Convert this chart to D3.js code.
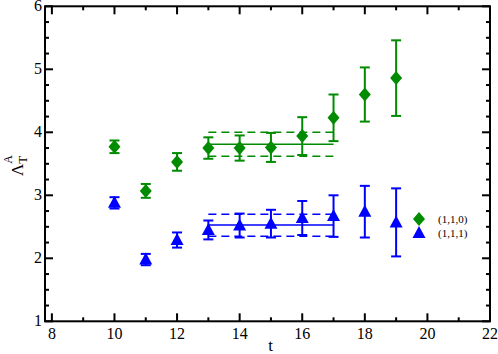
<!DOCTYPE html>
<html>
<head>
<meta charset="utf-8">
<script src="https://cdn.jsdelivr.net/npm/d3@7"></script>
<style>
  body { margin: 0; background: #fff; }
</style>
</head>
<body>
<svg id="chart"></svg>
<script>
// data
const tValues = [10, 11, 12, 13, 14, 15, 16, 17, 18, 19];
const green110 = [3.77, 3.07, 3.53, 3.75, 3.75, 3.76, 3.94, 4.23, 4.60, 4.86];
const green110Err = [0.10, 0.11, 0.14, 0.17, 0.20, 0.23, 0.30, 0.37, 0.43, 0.60];
const blue111 = [2.88, 1.98, 2.29, 2.45, 2.52, 2.55, 2.64, 2.67, 2.74, 2.57];
const blue111Err = [0.09, 0.09, 0.12, 0.15, 0.19, 0.22, 0.27, 0.33, 0.41, 0.54];
const fitRange = [13, 17];
const fitGreen = [3.81, 3.62, 4.00]; // value, low, high
const fitBlue = [2.53, 2.35, 2.70];
const xTicks = [8, 10, 12, 14, 16, 18, 20, 22];
const yTicks = [1, 2, 3, 4, 5, 6];
const legendLabels = ["(1,1,0)", "(1,1,1)"];

const GREEN = "#008b00", BLUE = "#0000ff";
const FONT = "'Liberation Serif', 'Times New Roman', 'DejaVu Serif', serif";
const W = 498, H = 354;
const margin = {top: 6.3, right: 8, bottom: 32.7, left: 45};

const svg = d3.select("#chart").attr("width", W).attr("height", H)
  .attr("font-family", FONT);

const x = d3.scaleLinear().domain([7.78, 22]).range([margin.left, W - margin.right]);
const y = d3.scaleLinear().domain([1, 6]).range([H - margin.bottom, margin.top]);

const g = svg.append("g");

// ticks on all four sides, pointing inward
const xMinor = d3.range(8, 22.01, 1);
const yMinor = d3.range(1, 6.01, 0.25);
const x0 = x.range()[0], x1 = x.range()[1], y0 = y.range()[0], y1 = y.range()[1];

function tickLine(x1_, y1_, x2_, y2_) {
  g.append("line").attr("x1", x1_).attr("y1", y1_).attr("x2", x2_).attr("y2", y2_)
    .attr("stroke", "#000").attr("stroke-width", 2);
}
xMinor.forEach(v => {
  const len = xTicks.includes(v) ? 8 : 4;
  tickLine(x(v), y0, x(v), y0 - len);
  tickLine(x(v), y1, x(v), y1 + len);
});
yMinor.forEach(v => {
  const len = yTicks.includes(v) ? 8 : 4;
  tickLine(x0, y(v), x0 + len, y(v));
  tickLine(x1, y(v), x1 - len, y(v));
});

// frame
g.append("rect").attr("x", x0).attr("y", y1).attr("width", x1 - x0).attr("height", y0 - y1)
  .attr("fill", "none").attr("stroke", "#000").attr("stroke-width", 2);

// tick labels
g.selectAll(".xl").data(xTicks).join("text")
  .attr("x", d => x(d)).attr("y", y0 + 18)
  .attr("text-anchor", "middle").attr("font-size", 16).text(d => d);
g.selectAll(".yl").data(yTicks).join("text")
  .attr("x", x0 - 3).attr("y", d => y(d) + 5)
  .attr("text-anchor", "end").attr("font-size", 16).text(d => d);

// axis titles
g.append("text").attr("x", 270.5).attr("y", 351).attr("text-anchor", "middle")
  .attr("font-size", 17).text("t");
const yt = g.append("text").attr("transform", "translate(23,176) rotate(-90)")
  .attr("font-size", 17);
yt.append("tspan").text("Λ");
yt.append("tspan").attr("font-size", 13).attr("dy", 4).text("T");
yt.append("tspan").attr("font-size", 12).attr("dx", -8).attr("dy", -15).text("A");

// fit bands
function fitBand(vals, color) {
  const [v, lo, hi] = vals;
  g.append("line").attr("x1", x(fitRange[0])).attr("x2", x(fitRange[1]))
    .attr("y1", y(v)).attr("y2", y(v)).attr("stroke", color).attr("stroke-width", 1.5);
  [lo, hi].forEach(b => {
    g.append("line").attr("x1", x(fitRange[0])).attr("x2", x(fitRange[1]))
      .attr("y1", y(b)).attr("y2", y(b)).attr("stroke", color).attr("stroke-width", 1.5)
      .attr("stroke-dasharray", "8,5");
  });
}
fitBand(fitGreen, GREEN);
fitBand(fitBlue, BLUE);

// error bars + symbols
function series(vals, errs, color, symType) {
  const data = tValues.map((t, i) => ({t, v: vals[i], e: errs[i]}));
  const eb = g.append("g").attr("stroke", color).attr("stroke-width", 2);
  data.forEach(d => {
    eb.append("line").attr("x1", x(d.t)).attr("x2", x(d.t))
      .attr("y1", y(d.v - d.e)).attr("y2", y(d.v + d.e));
    [d.v - d.e, d.v + d.e].forEach(b => {
      eb.append("line").attr("x1", x(d.t) - 5).attr("x2", x(d.t) + 5)
        .attr("y1", y(b)).attr("y2", y(b));
    });
  });
  g.selectAll(null).data(data).join("path")
    .attr("transform", d => `translate(${x(d.t)},${y(d.v)})`)
    .attr("d", symType)
    .attr("fill", color);
}
const diamond = "M0,-7L6,0L0,7L-6,0Z";
const triangle = "M0,-7L6.5,5L-6.5,5Z";
series(green110, green110Err, GREEN, diamond);
series(blue111, blue111Err, BLUE, triangle);

// legend
const lg = g.append("g");
lg.append("path").attr("transform", "translate(419,219)").attr("d", diamond).attr("fill", GREEN);
lg.append("path").attr("transform", "translate(419,233)").attr("d", triangle).attr("fill", BLUE);
legendLabels.forEach((l, i) => {
  lg.append("text").attr("x", 438).attr("y", 223 + i * 14).attr("font-size", 11).text(l);
});
</script>
</body>
</html>
